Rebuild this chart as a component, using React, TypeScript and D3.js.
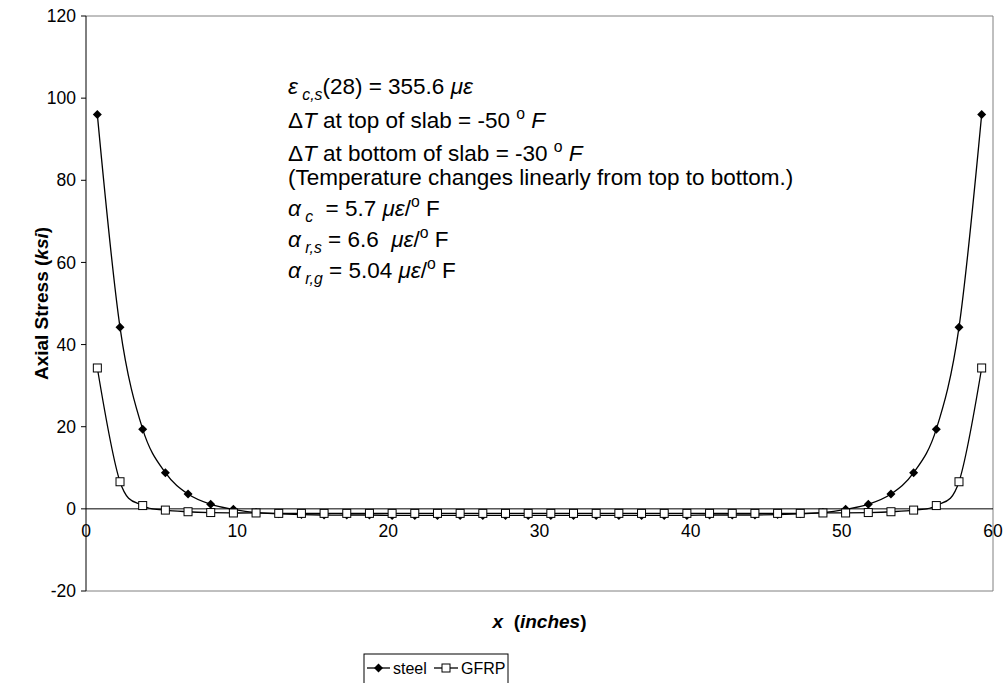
import React from "react";
import * as d3 from "d3";

// Positions along the slab (inches)
const positions = [
  0.75, 2.25, 3.75, 5.25, 6.75, 8.25, 9.75, 11.25, 12.75, 14.25,
  15.75, 17.25, 18.75, 20.25, 21.75, 23.25, 24.75, 26.25, 27.75, 29.25,
  30.75, 32.25, 33.75, 35.25, 36.75, 38.25, 39.75, 41.25, 42.75, 44.25,
  45.75, 47.25, 48.75, 50.25, 51.75, 53.25, 54.75, 56.25, 57.75, 59.25,
];

// Axial stress in steel reinforcement (ksi)
const steel = [
  96.0, 44.2, 19.4, 8.8, 3.6, 1.1, -0.1, -0.9, -1.2, -1.4,
  -1.5, -1.5, -1.5, -1.6, -1.6, -1.6, -1.6, -1.6, -1.6, -1.6,
  -1.6, -1.6, -1.6, -1.6, -1.6, -1.6, -1.6, -1.5, -1.5, -1.5,
  -1.4, -1.2, -0.9, -0.1, 1.1, 3.6, 8.8, 19.4, 44.2, 96.0,
];

// Axial stress in GFRP reinforcement (ksi)
const gfrp = [
  34.3, 6.6, 0.8, -0.3, -0.7, -0.9, -1.0, -1.0, -1.1, -1.1,
  -1.1, -1.1, -1.1, -1.1, -1.1, -1.1, -1.1, -1.1, -1.1, -1.1,
  -1.1, -1.1, -1.1, -1.1, -1.1, -1.1, -1.1, -1.1, -1.1, -1.1,
  -1.1, -1.1, -1.0, -1.0, -0.9, -0.7, -0.3, 0.8, 6.6, 34.3,
];

const xTicks = [0, 10, 20, 30, 40, 50, 60];
const yTicks = [-20, 0, 20, 40, 60, 80, 100, 120];

type Seg = { t: string; i?: boolean; sub?: boolean; sup?: boolean };

const noteLines: Seg[][] = [
  [{ t: "ε", i: true }, { t: " c,s", i: true, sub: true }, { t: "(28) = 355.6 " }, { t: "με", i: true }],
  [{ t: "Δ" }, { t: "T", i: true }, { t: " at top of slab = -50 " }, { t: "o", sup: true }, { t: " F", i: true }],
  [{ t: "Δ" }, { t: "T", i: true }, { t: " at bottom of slab = -30 " }, { t: "o", sup: true }, { t: " F", i: true }],
  [{ t: "(Temperature changes linearly from top to bottom.)" }],
  [{ t: "α", i: true }, { t: " c", i: true, sub: true }, { t: "  = 5.7 " }, { t: "με", i: true }, { t: "/" }, { t: "o", sup: true }, { t: " F" }],
  [{ t: "α", i: true }, { t: " r,s", i: true, sub: true }, { t: " = 6.6  " }, { t: "με", i: true }, { t: "/" }, { t: "o", sup: true }, { t: " F" }],
  [{ t: "α", i: true }, { t: " r,g", i: true, sub: true }, { t: " = 5.04 " }, { t: "με", i: true }, { t: "/" }, { t: "o", sup: true }, { t: " F" }],
];
const noteBaselines = [94, 128, 161, 185, 216, 247, 278];

const W = 1004;
const H = 683;
const plot = { left: 86, right: 993, top: 16, bottom: 591 };
const FONT = "'Liberation Sans', Arial, sans-serif";

function NoteLine({ segs, x, y, size }: { segs: Seg[]; x: number; y: number; size: number }) {
  let offset = 0;
  return (
    <text x={x} y={y} fontSize={size} fontFamily={FONT} fill="#000" style={{ whiteSpace: "pre" }}>
      {segs.map((s, k) => {
        const target = s.sub ? size * 0.28 : s.sup ? -size * 0.42 : 0;
        const dy = target - offset;
        offset = target;
        return (
          <tspan
            key={k}
            dy={dy}
            fontStyle={s.i ? "italic" : "normal"}
            fontSize={s.sub || s.sup ? size * 0.7 : size}
          >
            {s.t}
          </tspan>
        );
      })}
    </text>
  );
}

export default function App() {
  const x = d3.scaleLinear().domain([0, 60]).range([plot.left, plot.right]);
  const y = d3.scaleLinear().domain([-20, 120]).range([plot.bottom, plot.top]);

  const line = d3
    .line<[number, number]>()
    .x((d) => x(d[0]))
    .y((d) => y(d[1]))
    .curve(d3.curveCardinal.tension(0));

  const steelPts: [number, number][] = positions.map((p, i) => [p, steel[i]]);
  const gfrpPts: [number, number][] = positions.map((p, i) => [p, gfrp[i]]);

  const diamond = (cx: number, cy: number, r: number) =>
    `M${cx},${cy - r}L${cx + r},${cy}L${cx},${cy + r}L${cx - r},${cy}Z`;

  const legend = { x: 364, y: 654, w: 144, h: 40 };
  const ly = 668;

  return (
    <svg width={W} height={H} style={{ position: "absolute", left: 0, top: 0, background: "#fff" }}>
      <rect x={0} y={0} width={W} height={H} fill="#fff" />

      {/* plot frame */}
      <line x1={plot.left} x2={plot.right} y1={plot.top} y2={plot.top} stroke="#808080" />
      <line x1={plot.right} x2={plot.right} y1={plot.top} y2={plot.bottom} stroke="#808080" />
      <line x1={plot.left} x2={plot.right} y1={plot.bottom} y2={plot.bottom} stroke="#808080" />

      {/* y axis */}
      <line x1={plot.left} x2={plot.left} y1={plot.top} y2={plot.bottom} stroke="#000" />
      {yTicks.map((t) => (
        <g key={t}>
          <line x1={plot.left - 5} x2={plot.left} y1={y(t)} y2={y(t)} stroke="#000" />
          <text x={plot.left - 10} y={y(t)} dy="0.35em" textAnchor="end" fontSize={17.5} fontFamily={FONT}>
            {t}
          </text>
        </g>
      ))}

      {/* x axis along zero */}
      <line x1={plot.left} x2={plot.right} y1={y(0)} y2={y(0)} stroke="#000" />
      {xTicks.map((t) => (
        <text key={t} x={x(t)} y={y(0) + 28} textAnchor="middle" fontSize={17.5} fontFamily={FONT}>
          {t}
        </text>
      ))}

      {/* series */}
      <path d={line(steelPts) || ""} fill="none" stroke="#000" strokeWidth={1.3} />
      <path d={line(gfrpPts) || ""} fill="none" stroke="#000" strokeWidth={1.3} />
      {steelPts.map((d, i) => (
        <path key={"s" + i} d={diamond(x(d[0]), y(d[1]), 4.5)} fill="#000" />
      ))}
      {gfrpPts.map((d, i) => (
        <rect key={"g" + i} x={x(d[0]) - 4} y={y(d[1]) - 4} width={8} height={8} fill="#fff" stroke="#000" strokeWidth={1} />
      ))}

      {/* annotation */}
      {noteLines.map((segs, i) => (
        <NoteLine key={i} segs={segs} x={288} y={noteBaselines[i]} size={22.5} />
      ))}

      {/* axis titles */}
      <text
        transform={`translate(48, ${(plot.top + plot.bottom) / 2}) rotate(-90)`}
        textAnchor="middle"
        fontSize={19}
        fontWeight="bold"
        fontFamily={FONT}
        style={{ whiteSpace: "pre" }}
      >
        <tspan>Axial Stress (</tspan>
        <tspan fontStyle="italic">ksi</tspan>
        <tspan>)</tspan>
      </text>
      <text
        x={(plot.left + plot.right) / 2}
        y={628}
        textAnchor="middle"
        fontSize={19}
        fontWeight="bold"
        fontFamily={FONT}
        style={{ whiteSpace: "pre" }}
      >
        <tspan fontStyle="italic">x</tspan>
        <tspan>  (</tspan>
        <tspan fontStyle="italic">inches</tspan>
        <tspan>)</tspan>
      </text>

      {/* legend */}
      <rect x={legend.x} y={legend.y} width={legend.w} height={legend.h} fill="#fff" stroke="#000" />
      <line x1={367} x2={390} y1={ly} y2={ly} stroke="#000" strokeWidth={1.3} />
      <path d={diamond(378.5, ly, 4.5)} fill="#000" />
      <text x={393} y={ly} dy="0.35em" fontSize={16} fontFamily={FONT}>steel</text>
      <line x1={434} x2={458} y1={ly} y2={ly} stroke="#000" strokeWidth={1.3} />
      <rect x={442} y={ly - 4} width={8} height={8} fill="#fff" stroke="#000" />
      <text x={461} y={ly} dy="0.35em" fontSize={16} fontFamily={FONT}>GFRP</text>
    </svg>
  );
}
